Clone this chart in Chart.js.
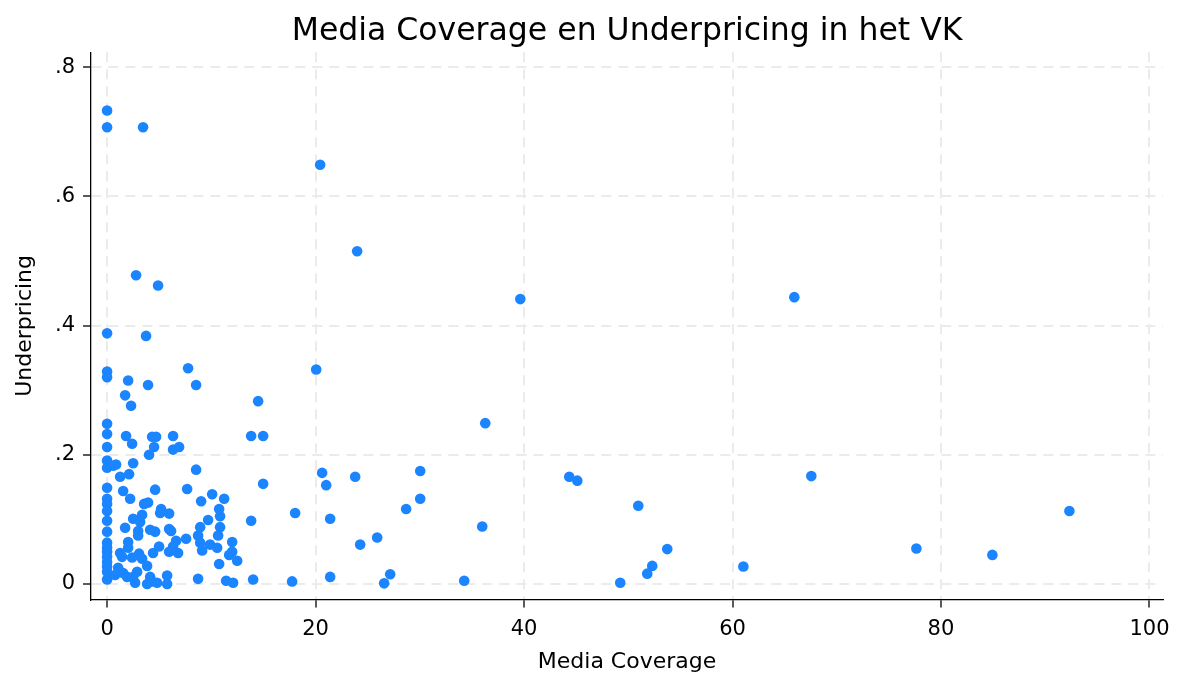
<!DOCTYPE html>
<html>
<head>
<meta charset="utf-8">
<script src="https://cdn.jsdelivr.net/npm/chart.js@4.4.1/dist/chart.umd.min.js"></script>
<style>
html,body{margin:0;padding:0;background:#fff;}
#wrap{width:1177px;height:675px;}
</style>
</head>
<body>
<div id="wrap"><canvas id="c" width="1177" height="675"></canvas></div>
<script>
const mediaCoverage = [
  0,0,3.45,20.44,23.99,39.64,65.93,2.78,4.89,
  0,3.74,0,0,2.02,3.93,7.77,8.54,20.06,1.73,2.30,14.49,0,36.28,
  0,1.82,4.32,4.70,6.33,13.82,14.97,
  0,2.40,4.51,4.03,6.33,6.91,
  0,0,0.86,0.58,2.50,1.25,2.11,8.54,14.97,
  0,1.54,2.21,4.61,7.68,9.02,10.08,11.23,0,
  20.63,21.02,23.80,30.04,30.04,28.69,18.04,21.40,25.91,24.28,35.99,44.34,45.11,50.96,53.74,52.30,51.82,49.23,61.04,67.56,77.64,84.93,92.32,34.26,27.16,26.58,21.40,17.75,
  0,0,3.55,3.93,5.18,5.09,5.95,10.75,10.84,2.50,3.36,3.17,9.69,13.82,0,
  0,1.73,2.98,2.98,4.13,4.61,5.95,6.14,8.93,10.84,10.65,8.73,8.93,9.12,7.58,6.62,2.02,
  0,0,0,0,0,0,0,0,
  2.02,1.25,1.44,2.40,3.07,3.36,4.41,4.99,5.95,6.81,6.33,9.88,10.56,12.00,12.00,11.71,12.48,10.75,3.84,
  1.06,1.54,1.92,2.88,2.50,2.69,4.13,3.84,4.32,4.80,5.76,5.76,8.73,11.42,12.09,14.01,0.77
];
const underpricing = [
  0.733,0.707,0.707,0.649,0.515,0.441,0.444,0.478,0.462,
  0.388,0.384,0.329,0.320,0.315,0.308,0.334,0.308,0.332,0.292,0.276,0.283,0.248,0.249,
  0.232,0.229,0.228,0.228,0.229,0.229,0.229,
  0.212,0.217,0.212,0.200,0.208,0.212,
  0.191,0.180,0.185,0.183,0.187,0.166,0.170,0.177,0.155,
  0.149,0.144,0.132,0.146,0.147,0.128,0.139,0.132,0.132,
  0.172,0.153,0.166,0.175,0.132,0.116,0.110,0.101,0.072,0.061,0.089,0.166,0.160,0.121,0.054,0.028,0.016,0.002,0.027,0.167,0.055,0.045,0.113,0.005,0.015,0.001,0.011,0.004,
  0.124,0.113,0.124,0.126,0.116,0.110,0.109,0.116,0.105,0.101,0.107,0.096,0.099,0.098,0.098,
  0.081,0.087,0.082,0.075,0.084,0.081,0.085,0.082,0.088,0.088,0.075,0.075,0.064,0.052,0.070,0.067,0.065,
  0.064,0.056,0.050,0.042,0.034,0.027,0.019,0.007,
  0.056,0.048,0.042,0.041,0.047,0.039,0.048,0.058,0.050,0.048,0.058,0.061,0.056,0.065,0.050,0.045,0.036,0.031,0.028,
  0.025,0.017,0.011,0.019,0.011,0.002,0.011,0.000,0.004,0.002,0.013,0.000,0.008,0.005,0.002,0.007,0.014
];
const xTicks = [0,20,40,60,80,100];
const yTicks = [0,0.2,0.4,0.6,0.8];
const yTickLabels = ['0','.2','.4','.6','.8'];

const points = mediaCoverage.map((x,i)=>({x:x,y:underpricing[i]}));
const FONT = "'DejaVu Sans', 'Liberation Sans', Arial, sans-serif";

const centerTitle = {
  id: 'centerTitle',
  afterLayout(chart) {
    const t = chart.titleBlock;
    if (t) {
      t.left = chart.chartArea.left;
      t.right = chart.chartArea.right;
      t.width = t.right - t.left;
    }
  }
};

new Chart(document.getElementById('c'), {
  type: 'scatter',
  data: { datasets: [{
    data: points,
    backgroundColor: '#1a85ff',
    borderColor: '#1a85ff',
    borderWidth: 0,
    pointRadius: 5.3,
    pointHoverRadius: 5.3
  }]},
  plugins: [centerTitle],
  options: {
    responsive: false,
    animation: false,
    events: [],
    layout: { padding: { left: 10, right: 14, top: 0, bottom: 0 } },
    plugins: {
      legend: { display: false },
      tooltip: { enabled: false },
      title: {
        display: true,
        text: 'Media Coverage en Underpricing in het VK',
        color: '#000',
        font: { family: FONT, size: 31.5, weight: 'normal' },
        padding: { top: 13, bottom: 1.5 }
      }
    },
    scales: {
      x: {
        type: 'linear',
        min: -1.54, max: 101.3,
        afterBuildTicks: (axis) => { axis.ticks = xTicks.map(v=>({value:v})); },
        afterFit: (axis) => { axis.paddingRight = 0; },
        ticks: { color:'#000', font:{family:FONT, size:21}, padding:9.4, maxRotation:0,
                 callback: (v)=> String(v) },
        grid: { color:'#ebebeb', lineWidth:2, drawTicks:true, tickLength:8, tickColor:'#000', tickWidth:1.3, tickBorderDash:[] },
        border: { display:true, color:'#000', width:1.3, dash:[10,7] },
        title: { display:true, text:'Media Coverage', color:'#000', font:{family:FONT, size:22, lineHeight:1.0}, padding:{top:0,bottom:1.5} }
      },
      y: {
        type: 'linear',
        min: -0.024, max: 0.823,
        afterBuildTicks: (axis) => { axis.ticks = yTicks.map(v=>({value:v})); },
        ticks: { color:'#000', font:{family:FONT, size:21}, padding:8,
                 callback: (v)=> { const i = yTicks.findIndex(t=>Math.abs(t-v)<1e-9); return i>=0 ? yTickLabels[i] : ''; } },
        grid: { color:'#ebebeb', lineWidth:2, drawTicks:true, tickLength:8, tickColor:'#000', tickWidth:1.3, tickBorderDash:[] },
        border: { display:true, color:'#000', width:1.3, dash:[10,7] },
        title: { display:true, text:'Underpricing', color:'#000', font:{family:FONT, size:22}, padding:{top:2,bottom:8.6} }
      }
    }
  }
});
</script>
</body>
</html>
